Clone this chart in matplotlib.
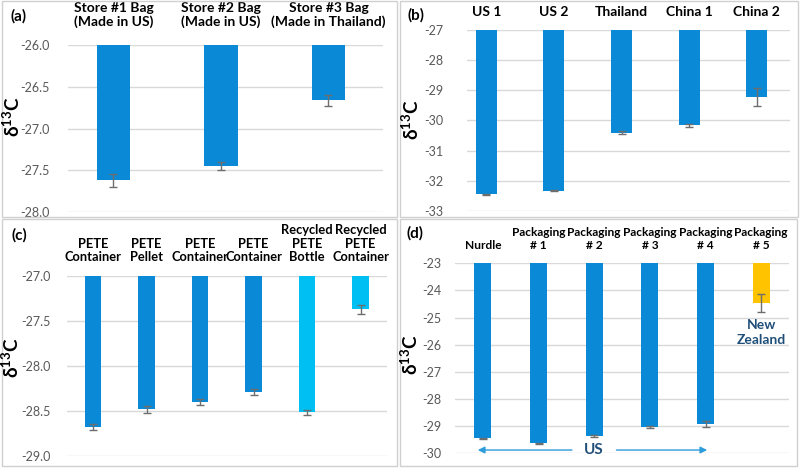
import matplotlib
matplotlib.use("Agg")
import matplotlib.pyplot as plt
from matplotlib.patches import Rectangle

plt.rcParams['font.family'] = ['Lato', 'DejaVu Sans']
plt.rcParams['mathtext.fontset'] = 'custom'
plt.rcParams['mathtext.bf'] = 'Lato:bold'
plt.rcParams['mathtext.rm'] = 'Lato'

# ---- data ----
a_labels = ["Store #1 Bag\n(Made in US)", "Store #2 Bag\n(Made in US)", "Store #3 Bag\n(Made in Thailand)"]
a_values = [-27.62, -27.45, -26.66]
a_errors = [0.08, 0.05, 0.065]
a_ticks = [-26.0, -26.5, -27.0, -27.5, -28.0]

b_labels = ["US 1", "US 2", "Thailand", "China 1", "China 2"]
b_values = [-32.44, -32.33, -30.40, -30.16, -29.23]
b_errors = [0.02, 0.02, 0.05, 0.04, 0.30]
b_ticks = [-27, -28, -29, -30, -31, -32, -33]

c_labels = ["PETE\nContainer", "PETE\nPellet", "PETE\nContainer", "PETE\nContainer",
            "Recycled\nPETE\nBottle", "Recycled\nPETE\nContainer"]
c_values = [-28.68, -28.48, -28.40, -28.29, -28.515, -27.37]
c_errors = [0.03, 0.04, 0.03, 0.03, 0.025, 0.05]
c_recycled = [False, False, False, False, True, True]
c_ticks = [-27.0, -27.5, -28.0, -28.5, -29.0]

d_labels = ["Nurdle", "Packaging\n# 1", "Packaging\n# 2", "Packaging\n# 3", "Packaging\n# 4", "Packaging\n# 5"]
d_values = [-29.45, -29.63, -29.35, -29.02, -28.92, -24.47]
d_errors = [0.02, 0.02, 0.04, 0.04, 0.12, 0.34]
d_origin = ["US", "US", "US", "US", "US", "New Zealand"]
d_ticks = [-23, -24, -25, -26, -27, -28, -29, -30]

BLUE = "#0A8AD6"
LIGHT = "#00BFF2"
GOLD = "#FFC300"
ERR = "#6E6E6E"
GRID = "#D9D9D9"
TICKC = "#595959"

W, H = 800, 468
fig = plt.figure(figsize=(8, 4.68), dpi=100)

def px_axes(x0, x1, y0, y1):
    return fig.add_axes([x0 / W, 1 - y1 / H, (x1 - x0) / W, (y1 - y0) / H])

# panel frames
for (x0, y0, x1, y1) in [(2, 1, 397, 217), (400, 1, 798, 217), (2, 219, 397, 466), (400, 219, 797, 466)]:
    fig.patches.append(Rectangle((x0 / W, 1 - y1 / H), (x1 - x0) / W, (y1 - y0) / H,
                                 transform=fig.transFigure, fill=False, edgecolor="#D0D0D0", lw=1.0))

def draw(ax, labels, values, errors, colors, ticks, xlim, ylim, fmt, lblsize, pad, ypad):
    x = list(range(len(labels)))
    top = ylim[1]
    heights = [v - top for v in values]
    ax.bar(x, heights, bottom=top, width=0.31, color=colors, zorder=3)
    ax.errorbar(x, values, yerr=errors, fmt='none', ecolor=ERR, elinewidth=1.0,
                capsize=3, capthick=1.0, zorder=4)
    ax.set_xlim(*xlim)
    ax.set_ylim(*ylim)
    ax.set_yticks(ticks)
    ax.set_yticklabels([fmt.format(t) for t in ticks])
    ax.tick_params(axis='y', length=0, pad=ypad, labelsize=9, labelcolor=TICKC)
    ax.xaxis.tick_top()
    ax.set_xticks(x)
    ax.set_xticklabels(labels, fontweight='bold', fontsize=lblsize, linespacing=1.15)
    ax.tick_params(axis='x', length=0, pad=pad)
    ax.grid(axis='y', color=GRID, lw=1.0, zorder=0)
    for s in ax.spines.values():
        s.set_visible(False)
    ax.patch.set_alpha(0)

# (a)
ax_a = px_axes(68, 383, 45, 212)
draw(ax_a, a_labels, a_values, a_errors, [BLUE] * 3, a_ticks, (-0.423, 2.507), (-28.0, -26.0),
     "{:.1f}", 10, 12, 13)
# (b)
ax_b = px_axes(467, 790, 30, 211)
draw(ax_b, b_labels, b_values, b_errors, [BLUE] * 5, b_ticks, (-0.285, 4.49), (-33, -27),
     "{:.0f}", 10, 9, 17)
# (c)
ax_c = px_axes(67, 387, 275.7, 456)
draw(ax_c, c_labels, c_values, c_errors, [LIGHT if r else BLUE for r in c_recycled], c_ticks,
     (-0.486, 5.495), (-29.0, -27.0), "{:.1f}", 9.3, 9, 12)
# (d)
ax_d = px_axes(455, 789, 263.3, 453.3)
d_colors = [BLUE if o == "US" else GOLD for o in d_origin]
draw(ax_d, d_labels, d_values, d_errors, d_colors, d_ticks, (-0.5, 5.5), (-30, -23),
     "{:.0f}", 8.6, 9, 10)

# US arrow + label in (d)
us_idx = [i for i, o in enumerate(d_origin) if o == "US"]
arrow_y = -29.88
ax_d.annotate("", xy=(us_idx[0] - 0.14, arrow_y), xytext=(2.0 - 0.35, arrow_y),
              arrowprops=dict(arrowstyle="-|>", color="#2E9BDA", lw=1.0, mutation_scale=10), zorder=5)
ax_d.annotate("", xy=(us_idx[-1] + 0.08, arrow_y), xytext=(2.0 + 0.35, arrow_y),
              arrowprops=dict(arrowstyle="-|>", color="#2E9BDA", lw=1.0, mutation_scale=10), zorder=5)
ax_d.text(2.0, arrow_y, "US", ha='center', va='center', fontsize=11, fontweight='bold',
          color="#1F4E79", zorder=6)
nz_idx = d_origin.index("New Zealand")
ax_d.text(nz_idx, -25.05, "New\nZealand", ha='center', va='top', fontsize=10, fontweight='bold',
          color="#1F4E79", linespacing=1.35)

# panel labels
for lab, (px, py) in zip(["(a)", "(b)", "(c)", "(d)"], [(19, 16), (416, 15), (19, 235), (415, 233)]):
    fig.text(px / W, 1 - py / H, lab, ha='center', va='center', fontsize=11, fontweight='bold')

# y labels
ylab = r"δ$^{\mathbf{13}}$C"
for (px, py) in [(12, 117), (411, 120), (11, 358), (410, 355)]:
    fig.text(px / W, 1 - py / H, ylab, rotation=90, ha='center', va='center',
             fontsize=13.5, fontweight='bold')

fig.savefig("out.png", dpi=100)
